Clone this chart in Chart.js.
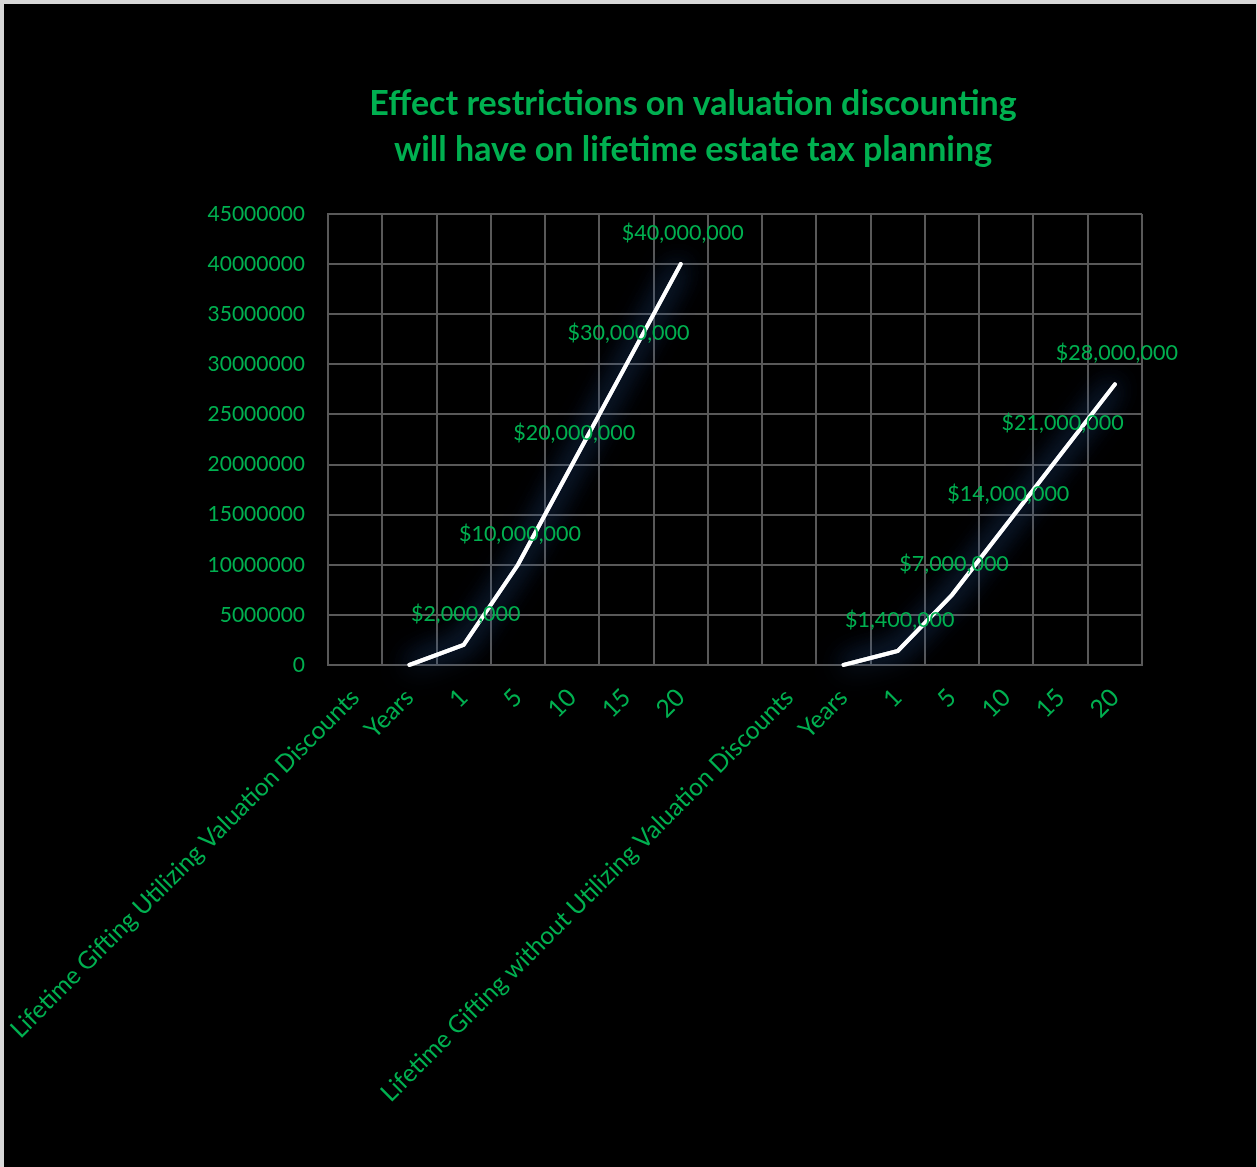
<!DOCTYPE html>
<html>
<head>
<meta charset="utf-8">
<script src="https://cdn.jsdelivr.net/npm/chart.js@4/dist/chart.umd.min.js"></script>
<style>
  html, body { margin: 0; padding: 0; background: #d9d9d9; overflow: hidden; }
  #wrap { position: absolute; left: 4px; top: 4px; width: 1252px; height: 1163px; background: #000; }
</style>
</head>
<body>
<div id="wrap"><canvas id="chart"></canvas></div>
<script>
// Chart text and data
const titleLines = [
  'Effect restrictions on valuation discounting',
  'will have on lifetime estate tax planning'
];
const categories = [
  'Lifetime Gifting Utilizing Valuation Discounts', 'Years', '1', '5', '10', '15', '20',
  '',
  'Lifetime Gifting without Utilizing Valuation Discounts', 'Years', '1', '5', '10', '15', '20'
];
const giftedValue = [
  null, 0, 2000000, 10000000, 20000000, 30000000, 40000000,
  null,
  null, 0, 1400000, 7000000, 14000000, 21000000, 28000000
];
const yMin = 0;
const yMax = 45000000;
const yStep = 5000000;

const GREEN = '#00b050';
const GRID = '#595959';
const FONT = 'Lato, "Open Sans", "DejaVu Sans", sans-serif';

// Two-line bold heading above the plot, sized to span a fixed width
const headingPlugin = {
  id: 'heading',
  afterDraw(chart) {
    const ctx = chart.ctx;
    ctx.save();
    ctx.font = 'bold 30px ' + FONT;
    const w = ctx.measureText(titleLines[0]).width;
    const size = Math.min(34, 30 * 660 / w);
    ctx.font = 'bold ' + size.toFixed(1) + 'px ' + FONT;
    ctx.fillStyle = GREEN;
    ctx.textAlign = 'center';
    ctx.textBaseline = 'middle';
    titleLines.forEach((line, i) => ctx.fillText(line, 689, 100 + i * 46));
    ctx.restore();
  }
};

// Soft navy glow behind the line (drawn twice to deepen the halo)
const glowPlugin = {
  id: 'glow',
  beforeDatasetDraw(chart, args) {
    const ctx = chart.ctx;
    ctx.save();
    ctx.shadowColor = 'rgba(40, 85, 150, 1)';
    ctx.shadowBlur = 28;
    ctx.shadowOffsetX = 0;
    ctx.shadowOffsetY = 0;
    args.meta.dataset.draw(ctx, chart.chartArea);
  },
  afterDatasetDraw(chart) {
    chart.ctx.restore();
  }
};

// Dollar value labels above each non-zero point
const valueLabelPlugin = {
  id: 'valueLabels',
  afterDatasetsDraw(chart) {
    const ctx = chart.ctx;
    const meta = chart.getDatasetMeta(0);
    const data = chart.data.datasets[0].data;
    ctx.save();
    ctx.font = '21.5px ' + FONT;
    ctx.fillStyle = GREEN;
    ctx.textAlign = 'center';
    ctx.textBaseline = 'middle';
    meta.data.forEach((pt, i) => {
      const v = data[i];
      if (v === null || v === 0) return;
      ctx.fillText('$' + v.toLocaleString('en-US'), pt.x + 2, pt.y - 31);
    });
    ctx.restore();
  }
};

new Chart(document.getElementById('chart'), {
  type: 'line',
  data: {
    labels: categories,
    datasets: [{
      data: giftedValue,
      borderColor: '#ffffff',
      borderWidth: 4,
      tension: 0,
      pointRadius: 0,
      spanGaps: false,
      borderCapStyle: 'round',
      borderJoinStyle: 'miter'
    }]
  },
  options: {
    responsive: true,
    maintainAspectRatio: false,
    devicePixelRatio: 1,
    animation: false,
    layout: { padding: { top: 210, right: 114, bottom: 0, left: 0 } },
    plugins: {
      legend: { display: false },
      title: { display: false },
      tooltip: { enabled: false }
    },
    scales: {
      x: {
        type: 'category',
        offset: true,
        grid: { color: GRID, lineWidth: 2, offset: true, drawTicks: false },
        border: { color: GRID, width: 2 },
        ticks: {
          color: GREEN,
          font: { family: FONT, size: 24.5 },
          minRotation: 45,
          maxRotation: 45,
          autoSkip: false,
          padding: 18
        },
        afterFit(scale) {
          scale.height = 502;
          scale.paddingLeft = 0;
          scale.paddingRight = 0;
        }
      },
      y: {
        min: yMin,
        max: yMax,
        grid: { color: GRID, lineWidth: 2, drawTicks: false },
        border: { color: GRID, width: 2 },
        ticks: {
          stepSize: yStep,
          color: GREEN,
          font: { family: FONT, size: 21 },
          padding: 23,
          callback: (v) => String(v)
        },
        afterFit(scale) {
          scale.width = 324;
          scale.paddingTop = 0;
          scale.paddingBottom = 0;
        }
      }
    }
  },
  plugins: [headingPlugin, glowPlugin, valueLabelPlugin]
});
</script>
</body>
</html>
